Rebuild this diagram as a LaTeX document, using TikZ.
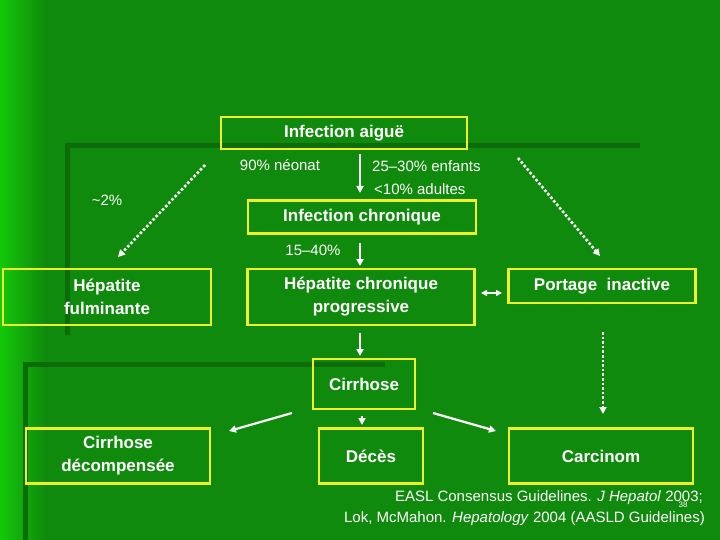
\documentclass[tikz,border=0pt]{standalone}
\usepackage{fontspec}
\setmainfont{Liberation Sans}
\usetikzlibrary{arrows.meta}
\definecolor{bg}{RGB}{16,138,12}
\definecolor{bgl}{RGB}{20,200,10}
\definecolor{dk}{RGB}{12,108,10}
\definecolor{yb}{RGB}{240,240,40}
\begin{document}
\begin{tikzpicture}[x=1pt,y=-1pt,
  box/.style={draw=yb,line width=2.6pt,text=white,font=\bfseries\fontsize{17}{23}\selectfont,align=center,inner sep=0pt},
  lab/.style={text=white,font=\fontsize{15}{17}\selectfont,inner sep=0pt},
  sar/.style={draw=white,line width=2.2pt,-{Triangle[length=7pt,width=7pt]}},
  dar/.style={draw=white,line width=2.6pt,dotted,-{Triangle[length=7pt,width=7pt]}}]
\useasboundingbox (0,0) rectangle (720,540);
\fill[bg] (0,0) rectangle (720,540);
\shade[left color=bgl,right color=bg] (0,0) rectangle (45,540);
\fill[dk] (67,143) rectangle (640,148);
\fill[dk] (65,143) rectangle (70,335);
\fill[dk] (25,362) rectangle (385,367);
\fill[dk] (23,362) rectangle (28,540);
\node[box,minimum width=246,minimum height=32] (ia) at (344,133) {Infection aiguë};
\node[box,minimum width=228,minimum height=33] (ic) at (362,217) {Infection chronique};
\node[box,minimum width=208,minimum height=56] (hf) at (107,297) {Hépatite\\fulminante};
\node[box,minimum width=227,minimum height=56] (hcp) at (361,297) {Hépatite chronique\\progressive};
\node[box,minimum width=187,minimum height=34] (pi) at (602,286) {Portage\ \ inactive};
\node[box,minimum width=102,minimum height=50] (ci) at (364,384) {Cirrhose};
\node[box,minimum width=184,minimum height=55] (cd) at (118,456) {Cirrhose\\décompensée};
\node[box,minimum width=104,minimum height=55] (de) at (371,456) {Décès};
\node[box,minimum width=184,minimum height=55] (ca) at (601,456) {Carcinom};
\node[lab] (l1) at (280,165) {90\% néonat};
\node[lab,anchor=west] (l2) at (372,166) {25–30\% enfants};
\node[lab,anchor=west] (l3) at (374,189) {<10\% adultes};
\node[lab] (l4) at (107,200) {\textasciitilde2\%};
\node[lab] (l5) at (313,250) {15–40\%};
\node[lab,anchor=east] (r1) at (703,498) {EASL Consensus Guidelines. \textit{J Hepatol} 2003;};
\node[lab,anchor=east] (r2) at (705,519) {Lok, McMahon. \textit{Hepatology} 2004 (AASLD Guidelines)};
\node[text=white,font=\fontsize{8}{9}\selectfont,inner sep=0pt] (pg) at (683,505) {38};
\coordinate (a1s) at (360,154); \coordinate (a1e) at (360,193);
\draw[sar] (a1s) -- (a1e);
\coordinate (a2s) at (360,243); \coordinate (a2e) at (360,266);
\draw[sar] (a2s) -- (a2e);
\coordinate (a3s) at (360,333); \coordinate (a3e) at (360,356);
\draw[sar] (a3s) -- (a3e);
\coordinate (a4s) at (205,165); \coordinate (a4e) at (118,257);
\draw[dar] (a4s) -- (a4e);
\coordinate (a5s) at (518,158); \coordinate (a5e) at (600,256);
\draw[dar] (a5s) -- (a5e);
\coordinate (a6s) at (603,332); \coordinate (a6e) at (603,414);
\draw[dar] (a6s) -- (a6e);
\coordinate (d1) at (481,293); \coordinate (d2) at (502,293);
\draw[draw=white,line width=2pt,{Triangle[length=6pt,width=6pt]}-{Triangle[length=6pt,width=6pt]}] (d1) -- (d2);
\coordinate (a7s) at (362,416); \coordinate (a7e) at (362,425);
\draw[sar] (a7s) -- (a7e);
\coordinate (a8s) at (292,413); \coordinate (a8e) at (229,431);
\draw[sar] (a8s) -- (a8e);
\coordinate (a9s) at (433,413); \coordinate (a9e) at (496,431);
\draw[sar] (a9s) -- (a9e);
\end{tikzpicture}
\end{document}
